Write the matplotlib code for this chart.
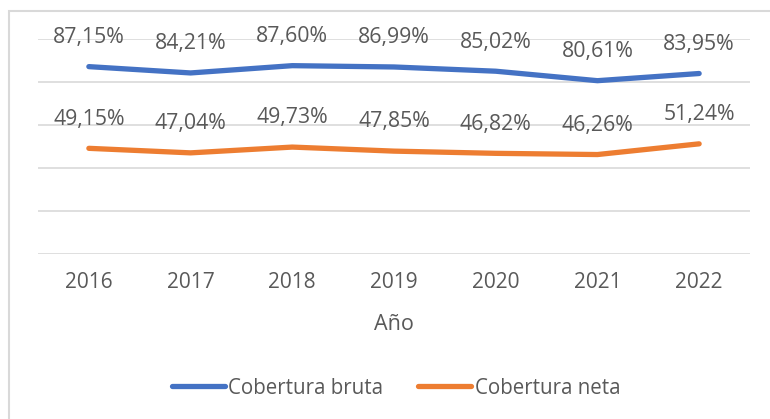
import matplotlib.pyplot as plt
from matplotlib.patches import Rectangle

## Data
years = ['2016', '2017', '2018', '2019', '2020', '2021', '2022']
bruta = [87.15, 84.21, 87.60, 86.99, 85.02, 80.61, 83.95]
neta = [49.15, 47.04, 49.73, 47.85, 46.82, 46.26, 51.24]

blue = '#4472C4'
orange = '#ED7D31'
gray_txt = '#595959'

plt.rcParams['font.family'] = ['Open Sans', 'DejaVu Sans']

fig = plt.figure(figsize=(7.7, 4.19), dpi=100)
ax = fig.add_axes([38 / 770, 1 - 254 / 419, (750 - 38) / 770, (254 - 39) / 419])

x = list(range(len(years)))
ax.plot(x, bruta, color=blue, lw=3.8, solid_capstyle='round', label='Cobertura bruta', zorder=3)
ax.plot(x, neta, color=orange, lw=3.8, solid_capstyle='round', label='Cobertura neta', zorder=3)

# labels above each point
for xi, v in zip(x, bruta):
    ax.annotate(f'{v:.2f}%'.replace('.', ','), (xi, v), xytext=(0, 21), textcoords='offset points',
                ha='center', va='center', fontsize=15.3, color=gray_txt)
for xi, v in zip(x, neta):
    ax.annotate(f'{v:.2f}%'.replace('.', ','), (xi, v), xytext=(0, 21), textcoords='offset points',
                ha='center', va='center', fontsize=15.3, color=gray_txt)

ax.set_xlim(-0.5, 6.5)
ax.set_ylim(0, 100)
ax.set_yticks([0, 20, 40, 60, 80, 100])
ax.yaxis.grid(True, color='#D9D9D9', lw=1.2)
ax.set_yticklabels([])
ax.tick_params(axis='y', length=0)
ax.set_xticks(x)
ax.set_xticklabels(years, fontsize=15, color=gray_txt)
ax.tick_params(axis='x', length=0, pad=13)
for s in ax.spines.values():
    s.set_visible(False)
ax.set_xlabel('Año', fontsize=15.5, color=gray_txt, labelpad=15)

leg = fig.legend(loc='center', bbox_to_anchor=(0.514, 1 - 388 / 419), ncol=2, frameon=False,
                 fontsize=14.8, handlelength=2.6, handletextpad=0.15, columnspacing=1.7)
for t in leg.get_texts():
    t.set_color(gray_txt)

# outer chart border
fig.patches.append(Rectangle((9 / 770, -0.1), 1.2, 1 - 11 / 419 + 0.1, transform=fig.transFigure,
                             fill=False, edgecolor='#D9D9D9', lw=1.5))

fig.savefig('out.png', dpi=100)
